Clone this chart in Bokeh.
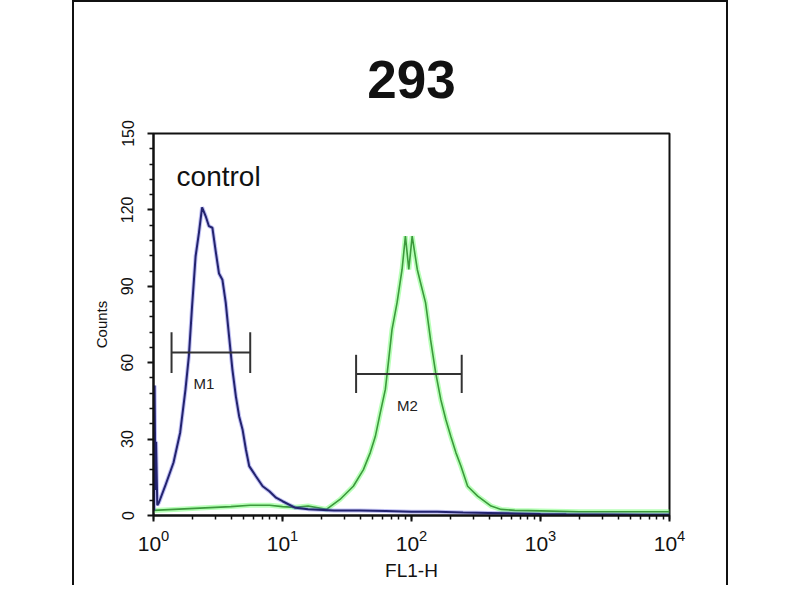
from bokeh.plotting import figure
from bokeh.models import FixedTicker, Range1d, Label
from bokeh.embed import file_html
from bokeh.resources import INLINE

# ---- data ----
blue_fl = [1.01, 1.02, 1.035, 1.047, 1.07, 1.10, 1.23, 1.43, 1.61, 1.77, 1.88, 1.99,
           2.12, 2.25, 2.38, 2.54, 2.69, 2.86, 3.03, 3.22, 3.42, 3.63, 3.86, 4.09,
           4.35, 4.61, 4.90, 5.20, 5.52, 6.22, 7.02, 7.91, 8.91, 10.0, 12.6, 15.8,
           25.1, 39.8, 63.1, 100, 158, 251, 398, 631, 1000, 1585, 3162, 6310, 10000]
blue_counts = [2, 51, 10, 29, 4, 5, 11.5, 20.8, 32.6, 49.5, 62.6, 82,
               101.8, 111, 121, 117.5, 113.6, 113, 104, 95, 92.6, 83.6, 70, 57.3,
               46.8, 39, 33.8, 26, 19.4, 15.4, 11.5, 9.5, 7, 5.6, 3, 2.5,
               2, 2, 1.8, 1.5, 1.5, 1.2, 1, 0.8, 0.6, 0.5, 0.4, 0.3, 0.3]

green_fl = [1.0, 1.58, 2.51, 3.98, 5.62, 7.94, 10.0, 12.6, 15.8, 21.9, 27.9, 35.4,
            42.4, 47.9, 52.4, 57.3, 62.7, 66.5, 70.6, 77.3, 84.5, 89.7, 95.3, 101.2,
            110.9, 117.5, 128.5, 140.6, 154, 168.7, 184.5, 201.8, 220.8, 241.5, 272.3, 325.8,
            414, 495.5, 631, 1000, 1995, 3981, 10000]
green_counts = [2, 2.5, 3, 3.5, 4, 4, 3.5, 3.2, 3.7, 2.4, 6.3, 11.5,
                18, 24.7, 31, 40.4, 49.5, 61, 73, 83.6, 96.6, 109.7, 96.6, 109.7,
                96.6, 91.4, 83.6, 69, 56, 45.5, 37.7, 31, 24.7, 19.4, 11.5, 7.6,
                3.7, 2.4, 2, 1.8, 1.5, 1.5, 1.5]

marker_names = ["M1", "M2"]
marker_lo = [1.38, 37.2]
marker_hi = [5.62, 245.0]
marker_level = [64, 55.6]
marker_half = [8, 7.5]
marker_label_x = [2.46, 93.0]
marker_label_y = [52, 43]

y_ticks = [0, 30, 60, 90, 120, 150]
y_minor = [6, 12, 18, 24, 36, 42, 48, 54, 66, 72, 78, 84, 96, 102, 108, 114, 126, 132, 138, 144]

title_text = "293"
control_text = "control"
control_x, control_y = 1.51, 133

# ---- figure ----
p = figure(width=656, height=585, x_axis_type="log", output_backend="svg",
           toolbar_location=None, x_range=Range1d(1, 10000), y_range=Range1d(0, 150),
           min_border_left=79, min_border_right=61, min_border_top=131, min_border_bottom=72)
p.margin = (0, 0, 0, 72)
p.styles = {"border-left": "2px solid #111", "border-right": "2px solid #111",
            "border-top": "2px solid #111"}

p.background_fill_color = "white"
p.border_fill_color = "white"
p.outline_line_color = "#111111"
p.outline_line_width = 2
p.xgrid.visible = False
p.ygrid.visible = False

p.title.text = title_text
p.title.text_font = "Liberation Sans"
p.title.text_font_size = "53px"
p.title.text_font_style = "bold"
p.title.text_line_height = 1.0
p.title.align = "center"
p.title.text_color = "#111111"
p.title.standoff = 72

for ax in (p.xaxis[0], p.yaxis[0]):
    ax.axis_line_width = 2
    ax.axis_line_color = "#111111"
    ax.major_tick_line_width = 2
    ax.minor_tick_line_width = 1.5
    ax.major_tick_line_color = "#111111"
    ax.minor_tick_line_color = "#111111"
    ax.major_tick_out = 6
    ax.major_tick_in = 0
    ax.minor_tick_out = 4
    ax.minor_tick_in = 0
    ax.major_label_text_font = "Liberation Sans"
    ax.axis_label_text_font = "Liberation Sans"
    ax.axis_label_text_font_style = "normal"
    ax.major_label_text_color = "#111111"
    ax.axis_label_text_color = "#111111"

p.yaxis.ticker = FixedTicker(ticks=y_ticks, minor_ticks=y_minor)
p.yaxis.major_label_orientation = "vertical"
p.yaxis.major_label_text_font_size = "16px"
p.yaxis.major_label_standoff = 14
p.yaxis.axis_label = "Counts"
p.yaxis.axis_label_text_font_size = "15px"
p.yaxis.axis_label_standoff = 9

p.xaxis.major_label_text_font_size = "21px"
p.xaxis.major_label_standoff = 8
p.xaxis.axis_label = "FL1-H"
p.xaxis.axis_label_text_font_size = "19px"
p.xaxis.axis_label_standoff = 6

# green (sample) histogram
p.line(green_fl, green_counts, line_color="#7dff7d", line_width=5, line_alpha=0.55)
p.line(green_fl, green_counts, line_color="#3c9a3c", line_width=1.6)
# blue (control) histogram
p.line(blue_fl, blue_counts, line_color="#4a4ae0", line_width=4, line_alpha=0.35)
p.line(blue_fl, blue_counts, line_color="#23236e", line_width=2)

# marker bars
p.segment(x0=marker_lo, y0=marker_level, x1=marker_hi, y1=marker_level,
          line_color="#333333", line_width=2)
lo_top = [lv + h for lv, h in zip(marker_level, marker_half)]
lo_bot = [lv - h for lv, h in zip(marker_level, marker_half)]
p.segment(x0=marker_lo, y0=lo_bot, x1=marker_lo, y1=lo_top, line_color="#333333", line_width=2)
p.segment(x0=marker_hi, y0=lo_bot, x1=marker_hi, y1=lo_top, line_color="#333333", line_width=2)
for name, lx, ly in zip(marker_names, marker_label_x, marker_label_y):
    p.add_layout(Label(x=lx, y=ly, text=name, text_font="Liberation Sans",
                       text_font_size="15px", text_align="center", text_baseline="middle",
                       text_color="#222222"))

p.add_layout(Label(x=control_x, y=control_y, text=control_text, text_font="Liberation Sans",
                   text_font_size="28px", text_align="left", text_baseline="middle",
                   text_color="#111111"))

open("out.html", "w").write(file_html(p, INLINE))
